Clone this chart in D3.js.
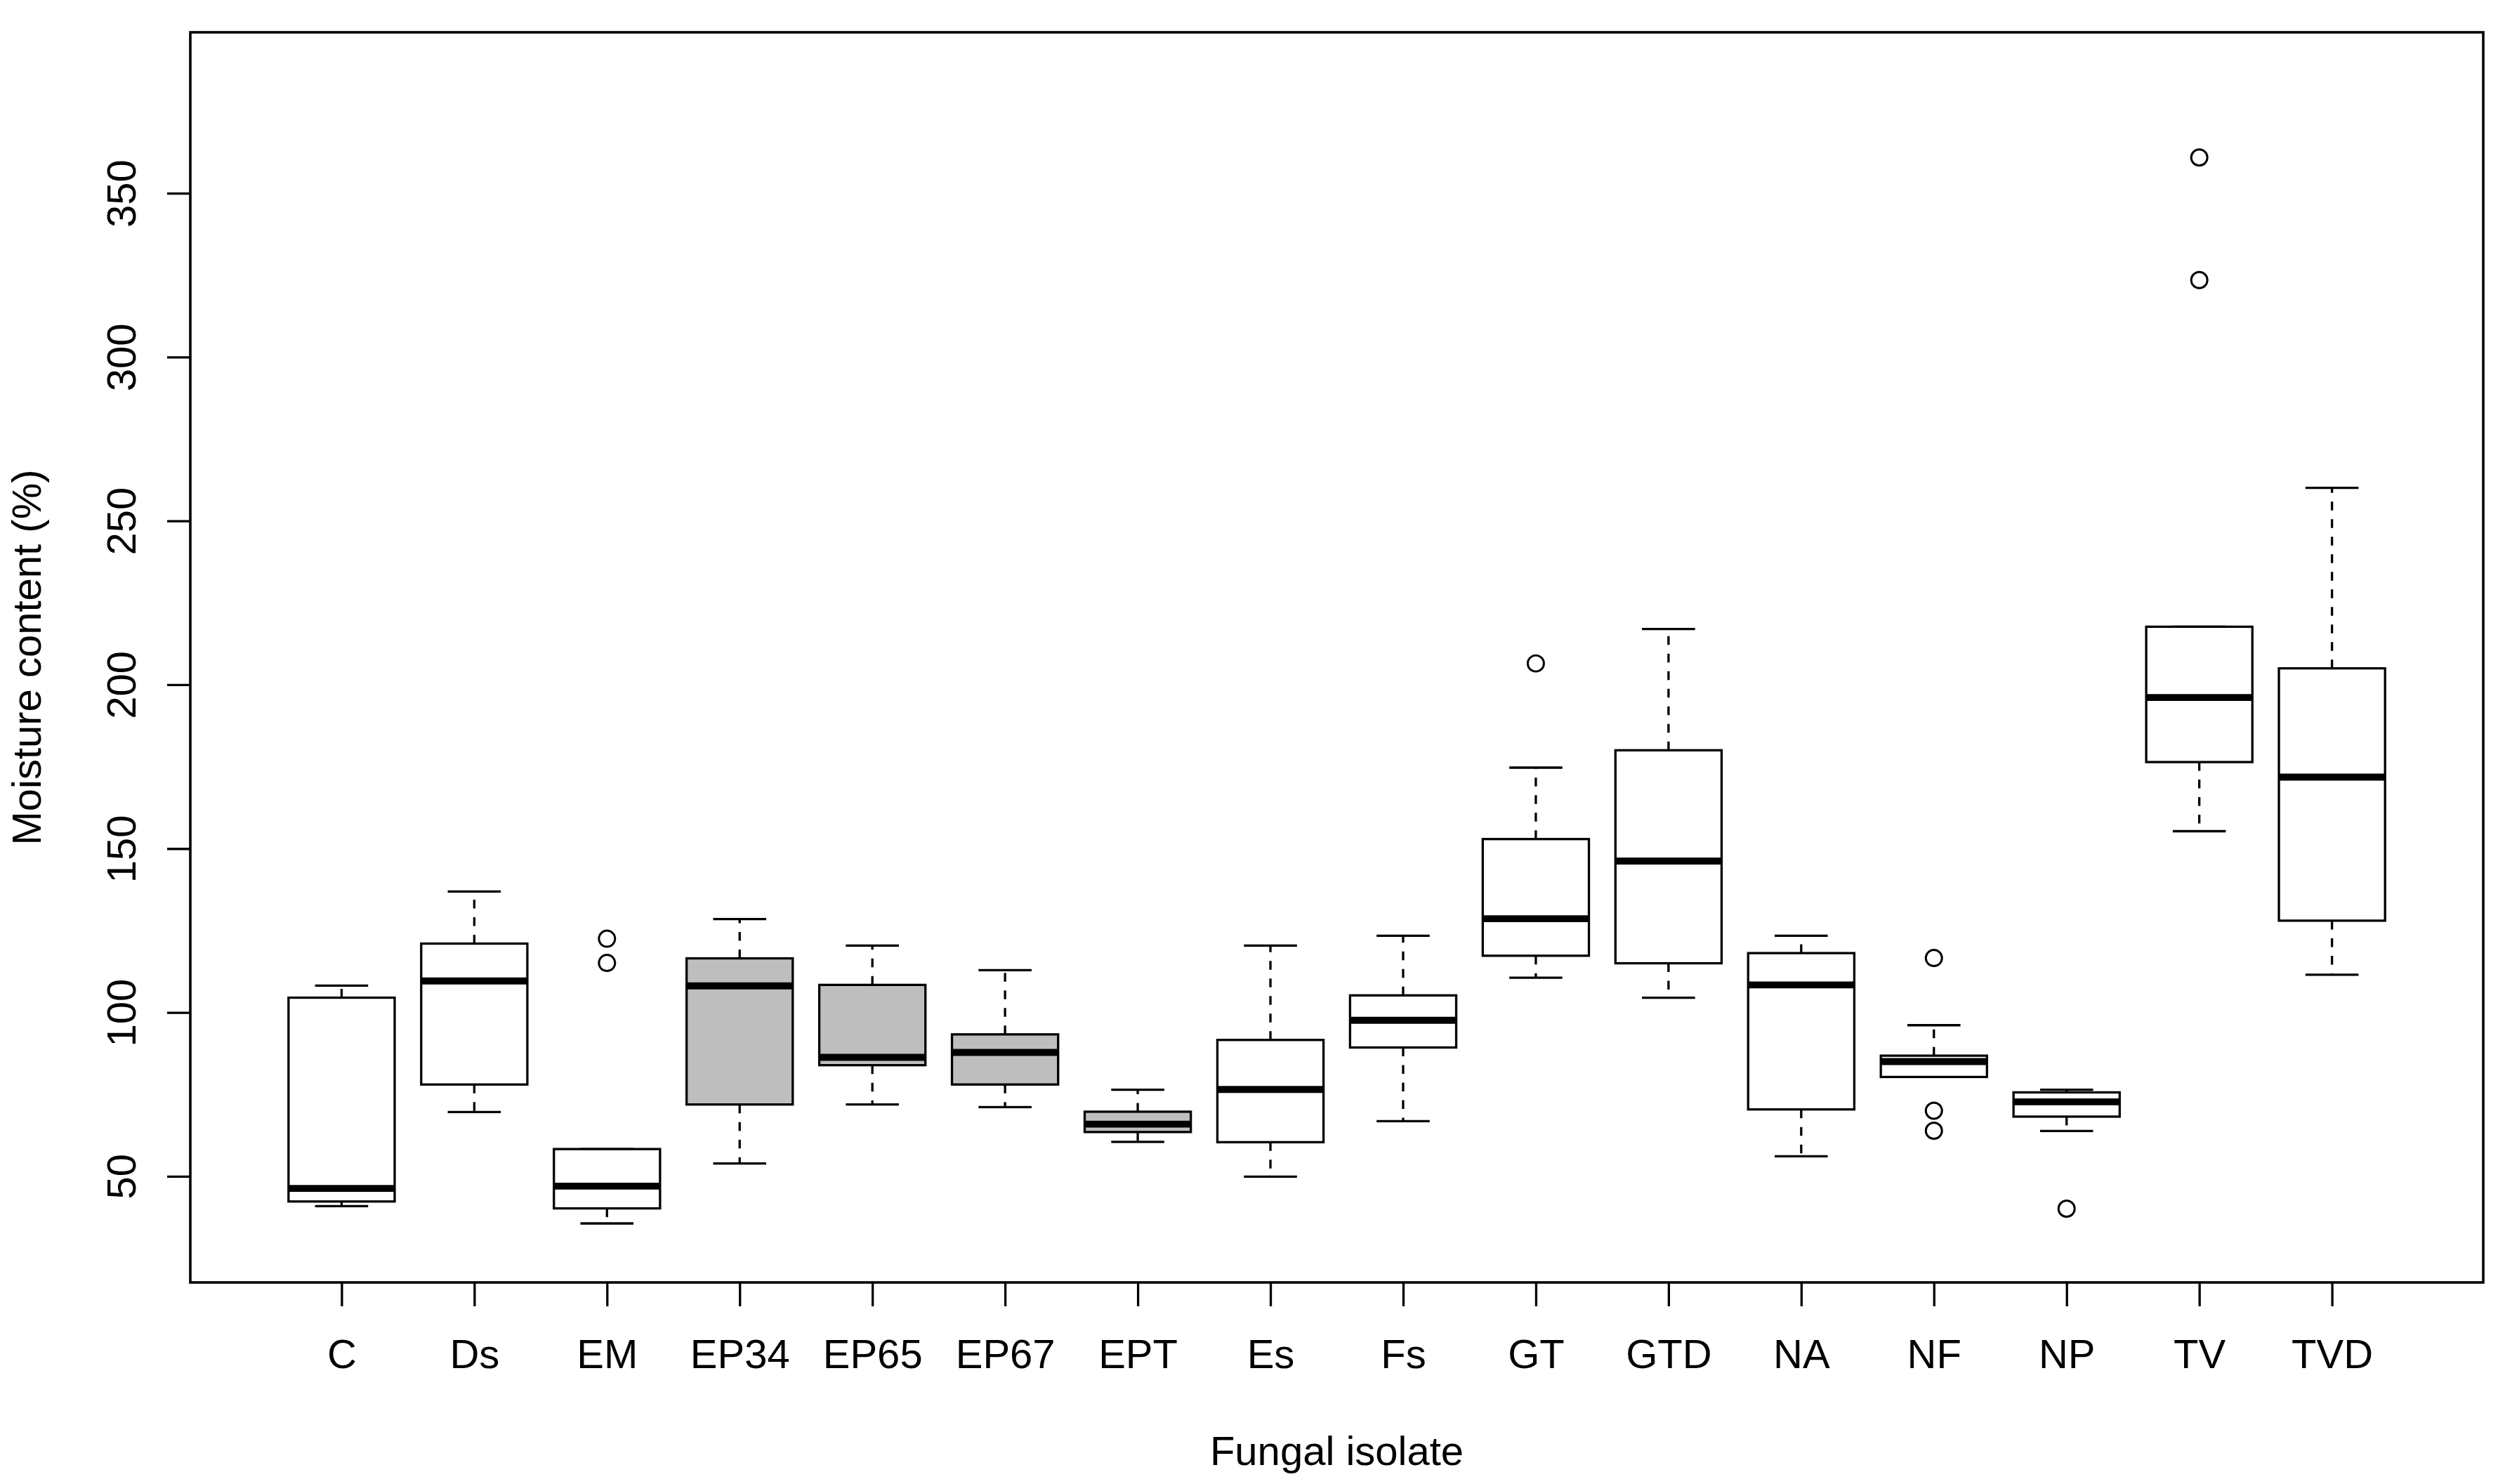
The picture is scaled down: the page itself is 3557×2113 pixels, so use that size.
<!DOCTYPE html>
<html>
<head>
<meta charset="utf-8">
<script src="https://cdn.jsdelivr.net/npm/d3@7"></script>
<style>
  html, body { margin: 0; padding: 0; background: #ffffff; }
  svg { display: block; }
  text { font-family: "Liberation Sans", Arial, sans-serif; fill: #000; }
</style>
</head>
<body>
<script>
// ---- data ----
const categories = ["C","Ds","EM","EP34","EP65","EP67","EPT","Es","Fs","GT","GTD","NA","NF","NP","TV","TVD"];
const whiskerLow = [40.9, 69.6, 35.6, 53.9, 71.9, 71.1, 60.5, 49.9, 66.8, 110.6, 104.5, 56.1, 80.3, 63.8, 155.3, 111.5];
const q1         = [42.3, 78.0, 40.2, 71.9, 83.9, 78.0, 63.5, 60.4, 89.3, 117.3, 115.0, 70.4, 80.3, 68.2, 176.4, 128.0];
const medians    = [46.3, 109.6, 47.0, 108.1, 86.3, 87.8, 65.9, 76.5, 97.6, 128.6, 146.2, 108.4, 85.0, 72.7, 196.1, 171.8];
const q3         = [104.5, 121.0, 58.3, 116.5, 108.4, 93.3, 69.7, 91.6, 105.2, 152.9, 180.0, 118.1, 86.8, 75.6, 217.7, 205.0];
const whiskerHigh= [108.2, 136.9, 58.3, 128.5, 120.4, 112.9, 76.4, 120.4, 123.4, 174.7, 217.0, 123.4, 96.1, 76.4, 217.7, 260.1];
const outliers   = [[], [], [122.5, 115.1], [], [], [], [], [], [], [206.5], [], [], [116.6, 70.0, 63.9], [40.1], [360.9, 323.5], []];
const shadedCategories = ["EP34","EP65","EP67","EPT"];
const yTicks = [50, 100, 150, 200, 250, 300, 350];
const xTitle = "Fungal isolate";
const yTitle = "Moisture content (%)";

// ---- layout ----
const W = 3557, H = 2113;
const plot = { left: 271, right: 3536, top: 46, bottom: 1826 };
const lw = 3.3;          // base line width
const fontSize = 58;

const svg = d3.select("body").append("svg")
  .attr("width", W).attr("height", H)
  .attr("viewBox", `0 0 ${W} ${H}`);

svg.append("rect").attr("width", W).attr("height", H).attr("fill", "#fff");

const n = categories.length;
const ext = 0.04 * n;
const x = d3.scaleLinear()
  .domain([0.5 - ext, n + 0.5 + ext])
  .range([plot.left, plot.right]);
const y = d3.scaleLinear()
  .domain([17.6, 399.1])
  .range([plot.bottom, plot.top]);

const boxW = x(0.8) - x(0);   // 0.8 units
const capW = boxW / 2;

const data = categories.map((c, i) => ({
  cat: c, pos: i + 1,
  lo: whiskerLow[i], q1: q1[i], med: medians[i], q3: q3[i], hi: whiskerHigh[i],
  out: outliers[i], shaded: shadedCategories.includes(c)
}));

const g = svg.append("g");
const boxes = g.selectAll("g.box").data(data).enter().append("g").attr("class", "box");

// whiskers (dashed)
boxes.filter(d => d.hi > d.q3).append("line")
  .attr("x1", d => x(d.pos)).attr("x2", d => x(d.pos))
  .attr("y1", d => y(d.q3)).attr("y2", d => y(d.hi))
  .attr("stroke", "#000").attr("stroke-width", lw).attr("stroke-dasharray", "12.5,12.5");
boxes.filter(d => d.lo < d.q1).append("line")
  .attr("x1", d => x(d.pos)).attr("x2", d => x(d.pos))
  .attr("y1", d => y(d.q1)).attr("y2", d => y(d.lo))
  .attr("stroke", "#000").attr("stroke-width", lw).attr("stroke-dasharray", "12.5,12.5");

// staples
boxes.append("line")
  .attr("x1", d => x(d.pos) - capW / 2).attr("x2", d => x(d.pos) + capW / 2)
  .attr("y1", d => y(d.hi)).attr("y2", d => y(d.hi))
  .attr("stroke", "#000").attr("stroke-width", lw);
boxes.append("line")
  .attr("x1", d => x(d.pos) - capW / 2).attr("x2", d => x(d.pos) + capW / 2)
  .attr("y1", d => y(d.lo)).attr("y2", d => y(d.lo))
  .attr("stroke", "#000").attr("stroke-width", lw);

// boxes
boxes.append("rect")
  .attr("x", d => x(d.pos) - boxW / 2)
  .attr("width", boxW)
  .attr("y", d => y(d.q3))
  .attr("height", d => y(d.q1) - y(d.q3))
  .attr("fill", d => d.shaded ? "#bebebe" : "#ffffff")
  .attr("stroke", "#000").attr("stroke-width", lw);

// medians
boxes.append("line")
  .attr("x1", d => x(d.pos) - boxW / 2).attr("x2", d => x(d.pos) + boxW / 2)
  .attr("y1", d => y(d.med)).attr("y2", d => y(d.med))
  .attr("stroke", "#000").attr("stroke-width", lw * 3);

// outliers
boxes.selectAll("circle").data(d => d.out.map(v => ({ pos: d.pos, v }))).enter()
  .append("circle")
  .attr("cx", d => x(d.pos)).attr("cy", d => y(d.v))
  .attr("r", 11.5)
  .attr("fill", "none").attr("stroke", "#000").attr("stroke-width", lw * 0.9);

// frame
svg.append("rect")
  .attr("x", plot.left).attr("y", plot.top)
  .attr("width", plot.right - plot.left).attr("height", plot.bottom - plot.top)
  .attr("fill", "none").attr("stroke", "#000").attr("stroke-width", 3.6);

// y axis
const yAxis = d3.axisLeft(y).tickValues(yTicks).tickSize(33).tickPadding(12).tickFormat(d3.format("d"));
const ya = svg.append("g").attr("transform", `translate(${plot.left},0)`).call(yAxis);
ya.select(".domain").remove();
ya.selectAll(".tick line").attr("stroke", "#000").attr("stroke-width", lw);
ya.selectAll(".tick text")
  .attr("x", null).attr("dy", null)
  .attr("text-anchor", "middle")
  .attr("transform", "translate(-78,0) rotate(-90)")
  .style("font-size", fontSize + "px")
  .style("font-family", "'Liberation Sans', Arial, sans-serif");

// x axis
const xAxis = d3.axisBottom(x).tickValues(d3.range(1, n + 1)).tickSize(34).tickPadding(0)
  .tickFormat(i => categories[i - 1]);
const xa = svg.append("g").attr("transform", `translate(0,${plot.bottom})`).call(xAxis);
xa.select(".domain").remove();
xa.selectAll(".tick line").attr("stroke", "#000").attr("stroke-width", lw);
xa.selectAll(".tick text")
  .attr("y", 122).attr("dy", null)
  .attr("text-anchor", "middle")
  .style("font-size", fontSize + "px")
  .style("font-family", "'Liberation Sans', Arial, sans-serif");

// titles
svg.append("text")
  .attr("x", (plot.left + plot.right) / 2).attr("y", 2086)
  .attr("text-anchor", "middle")
  .style("font-size", fontSize + "px")
  .text(xTitle);
svg.append("text")
  .attr("transform", `translate(58,${(plot.top + plot.bottom) / 2}) rotate(-90)`)
  .attr("text-anchor", "middle")
  .style("font-size", fontSize + "px")
  .text(yTitle);
</script>
</body>
</html>
